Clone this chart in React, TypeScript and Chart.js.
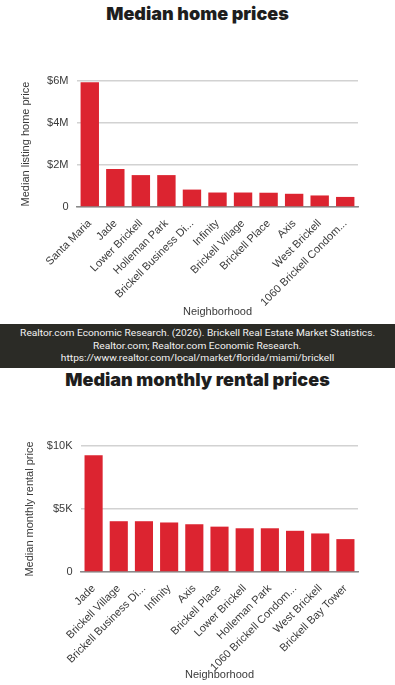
import React, { useEffect, useRef, useState } from "react";
import { Chart, registerables } from "chart.js";

Chart.register(...registerables);

const homeCategories = [
  "Santa Maria",
  "Jade",
  "Lower Brickell",
  "Holleman Park",
  "Brickell Business Di...",
  "Infinity",
  "Brickell Village",
  "Brickell Place",
  "Axis",
  "West Brickell",
  "1060 Brickell Condom...",
];
const homePrices = [5950000, 1810000, 1520000, 1520000, 830000, 690000, 690000, 680000, 630000, 550000, 480000];
const homeMax = 6000000;
const homeStep = 2000000;

const rentCategories = [
  "Jade",
  "Brickell Village",
  "Brickell Business Di...",
  "Infinity",
  "Axis",
  "Brickell Place",
  "Lower Brickell",
  "Holleman Park",
  "1060 Brickell Condom...",
  "West Brickell",
  "Brickell Bay Tower",
];
const rentPrices = [9260, 4030, 4030, 3930, 3790, 3600, 3470, 3470, 3270, 3060, 2610];
const rentMax = 10000;
const rentStep = 5000;

const captionLines = [
  "Realtor.com Economic Research. (2026). Brickell Real Estate Market Statistics.",
  "Realtor.com; Realtor.com Economic Research.",
  "https://www.realtor.com/local/market/florida/miami/brickell",
];

const BAR = "#dc2430";
const TXT = "#3a3a3a";
const FONT = "'Liberation Sans', Arial, sans-serif";
const CAP_FONT = "9.5px Roboto";

type BarProps = {
  labels: string[];
  values: number[];
  max: number;
  step: number;
  fmt: (v: number) => string;
  yTitle: string;
  top: number;
  height: number;
  padTop: number;
  yWidth: number;
  yTitlePad: number;
  xHeight: number;
};

function BarChart(p: BarProps) {
  const ref = useRef<HTMLCanvasElement | null>(null);
  useEffect(() => {
    if (!ref.current) return;
    const chart = new Chart(ref.current, {
      type: "bar",
      data: {
        labels: p.labels,
        datasets: [
          {
            data: p.values,
            backgroundColor: BAR,
            categoryPercentage: 0.8,
            barPercentage: 0.9,
          },
        ],
      },
      options: {
        animation: false,
        responsive: false,
        layout: { padding: { top: p.padTop, left: 0, right: 37, bottom: 0 } },
        plugins: { legend: { display: false }, tooltip: { enabled: false }, title: { display: false } },
        scales: {
          x: {
            grid: { display: false },
            border: { display: true, color: "#8a8a8a", width: 1.5 },
            ticks: {
              color: TXT,
              font: { family: FONT, size: 11 },
              minRotation: 45,
              maxRotation: 45,
              autoSkip: false,
              padding: 2,
            },
            title: {
              display: true,
              text: "Neighborhood",
              color: TXT,
              font: { family: FONT, size: 11 },
              padding: { top: 0, bottom: 3 },
            },
            afterFit: (s: any) => {
              s.height = p.xHeight;
            },
          },
          y: {
            min: 0,
            max: p.max,
            grid: { color: "#d2d2d2", lineWidth: 1.5, drawTicks: false },
            border: { display: false },
            ticks: {
              stepSize: p.step,
              color: TXT,
              font: { family: FONT, size: 11 },
              padding: 8.5,
              callback: (v: any) => p.fmt(Number(v)),
            },
            title: {
              display: true,
              text: p.yTitle,
              color: TXT,
              font: { family: FONT, size: 11 },
              padding: { top: p.yTitlePad, bottom: 0 },
            },
            afterFit: (s: any) => {
              s.width = p.yWidth;
            },
          },
        },
      },
    } as any);
    return () => chart.destroy();
  }, []);
  return (
    <canvas
      ref={ref}
      width={395}
      height={p.height}
      style={{ position: "absolute", left: 0, top: p.top, width: 395, height: p.height }}
    />
  );
}

const titleStyle = (top: number): React.CSSProperties => ({
  position: "absolute",
  left: 0,
  top,
  width: 395,
  textAlign: "center",
  fontFamily: "Inter, Lato, sans-serif",
  fontWeight: 900,
  fontSize: 18,
  lineHeight: "20px",
  color: "#1e1e1e",
  margin: 0,
});

function Caption() {
  const [scale, setScale] = useState(1);
  useEffect(() => {
    const c = document.createElement("canvas").getContext("2d");
    if (!c) return;
    c.font = CAP_FONT;
    const w = c.measureText(captionLines[0]).width;
    if (w > 0) setScale(355 / w);
  }, []);
  return (
    <div
      style={{
        position: "absolute",
        left: 0,
        top: 324,
        width: 395,
        height: 44,
        background: "#2b2b26",
        color: "#f2f2f2",
        textAlign: "center",
        fontFamily: "Roboto, sans-serif",
        fontSize: 9.5,
        lineHeight: "12.5px",
        paddingTop: 3,
        boxSizing: "border-box",
      }}
    >
      {captionLines.map((l, i) => (
        <div key={i} style={{ whiteSpace: "nowrap" }}>
          <span style={{ display: "inline-block", transform: `scaleX(${scale})`, transformOrigin: "center" }}>{l}</span>
        </div>
      ))}
    </div>
  );
}

export default function App() {
  return (
    <div style={{ position: "absolute", left: 0, top: 0, width: 395, height: 685, background: "#fff", overflow: "hidden" }}>
      <div style={titleStyle(4)}>Median home prices</div>
      <BarChart
        labels={homeCategories}
        values={homePrices}
        max={homeMax}
        step={homeStep}
        fmt={(v) => (v === 0 ? "0" : "$" + v / 1000000 + "M")}
        yTitle="Median listing home price"
        top={66}
        height={256}
        padTop={15}
        yWidth={77}
        yTitlePad={19.4}
        xHeight={115}
      />
      <Caption />
      <div style={titleStyle(370)}>Median monthly rental prices</div>
      <BarChart
        labels={rentCategories}
        values={rentPrices}
        max={rentMax}
        step={rentStep}
        fmt={(v) => (v === 0 ? "0" : "$" + v / 1000 + "K")}
        yTitle="Median monthly rental price"
        top={430}
        height={255}
        padTop={16}
        yWidth={81}
        yTitlePad={23.4}
        xHeight={113}
      />
    </div>
  );
}
